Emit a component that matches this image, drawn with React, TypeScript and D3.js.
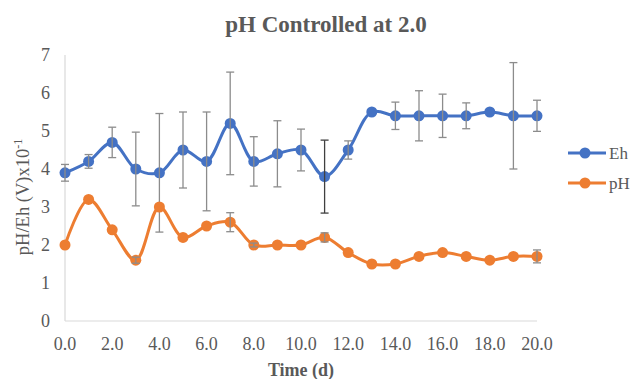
import React, { useEffect, useRef } from 'react';
import * as d3 from 'd3';

// days 0..20
const days = d3.range(0, 21);
const ehValues = [3.9, 4.2, 4.7, 4.0, 3.9, 4.5, 4.2, 5.2, 4.2, 4.4, 4.5, 3.8, 4.5, 5.5, 5.4, 5.4, 5.4, 5.4, 5.5, 5.4, 5.4];
const ehErrors = [0.22, 0.18, 0.4, 0.97, 1.56, 1.0, 1.3, 1.35, 0.65, 0.87, 0.55, 0.96, 0.24, 0, 0.36, 0.66, 0.57, 0.34, 0, 1.4, 0.41];
const phValues = [2.0, 3.2, 2.4, 1.6, 3.0, 2.2, 2.5, 2.6, 2.0, 2.0, 2.0, 2.2, 1.8, 1.5, 1.5, 1.7, 1.8, 1.7, 1.6, 1.7, 1.7];
const phErrors = [0, 0, 0, 0.08, 0, 0, 0, 0.25, 0.05, 0, 0, 0.12, 0, 0, 0, 0, 0, 0, 0, 0, 0.17];
const xTicks = [0, 2, 4, 6, 8, 10, 12, 14, 16, 18, 20];
const yTicks = [0, 1, 2, 3, 4, 5, 6, 7];

const seriesList = [
  { name: 'Eh', values: ehValues, errors: ehErrors, color: '#4472C4' },
  { name: 'pH', values: phValues, errors: phErrors, color: '#ED7D31' },
];

export default function App() {
  const ref = useRef<SVGSVGElement>(null);

  useEffect(() => {
    const svg = d3.select(ref.current);
    svg.selectAll('*').remove();

    const font = '"Liberation Serif", "Times New Roman", serif';
    const xScale = d3.scaleLinear().domain([0, 20]).range([65, 537]);
    const yScale = d3.scaleLinear().domain([0, 7]).range([321, 55]);

    // axes lines
    svg.append('line')
      .attr('x1', xScale(0)).attr('x2', xScale(0))
      .attr('y1', yScale(7)).attr('y2', yScale(0))
      .attr('stroke', '#d9d9d9').attr('stroke-width', 1.2);
    svg.append('line')
      .attr('x1', xScale(0)).attr('x2', xScale(20))
      .attr('y1', yScale(0)).attr('y2', yScale(0))
      .attr('stroke', '#d9d9d9').attr('stroke-width', 1.2);

    // tick labels
    svg.selectAll('.ytick')
      .data(yTicks)
      .join('text')
      .attr('class', 'ytick')
      .attr('x', 50)
      .attr('y', d => yScale(d))
      .attr('dy', '0.35em')
      .attr('text-anchor', 'end')
      .attr('font-family', font)
      .attr('font-size', 18)
      .attr('fill', '#595959')
      .text(d => d);

    svg.selectAll('.xtick')
      .data(xTicks)
      .join('text')
      .attr('class', 'xtick')
      .attr('x', d => xScale(d))
      .attr('y', 344)
      .attr('dy', '0.35em')
      .attr('text-anchor', 'middle')
      .attr('font-family', font)
      .attr('font-size', 18)
      .attr('fill', '#595959')
      .text(d => d.toFixed(1));

    // titles
    svg.append('text')
      .attr('x', 326).attr('y', 32)
      .attr('text-anchor', 'middle')
      .attr('font-family', font)
      .attr('font-size', 23)
      .attr('font-weight', 'bold')
      .attr('fill', '#595959')
      .text('pH Controlled at 2.0');

    svg.append('text')
      .attr('x', 301).attr('y', 376)
      .attr('text-anchor', 'middle')
      .attr('font-family', font)
      .attr('font-size', 18)
      .attr('font-weight', 'bold')
      .attr('fill', '#595959')
      .text('Time (d)');

    const yLabel = svg.append('text')
      .attr('transform', 'translate(29, 197) rotate(-90)')
      .attr('text-anchor', 'middle')
      .attr('font-family', font)
      .attr('font-size', 18.5)
      .attr('fill', '#595959');
    yLabel.append('tspan').text('pH/Eh (V)x10');
    yLabel.append('tspan').attr('font-size', 12).attr('dy', -7).text('-1');

    const line = d3.line<number>()
      .x((_, i) => xScale(days[i]))
      .y(d => yScale(d))
      .curve(d3.curveCatmullRom.alpha(0.5));

    seriesList.forEach(s => {
      const g = svg.append('g');
      g.append('path')
        .attr('d', line(s.values))
        .attr('fill', 'none')
        .attr('stroke', s.color)
        .attr('stroke-width', 3);

      g.selectAll('.dot')
        .data(s.values)
        .join('circle')
        .attr('class', 'dot')
        .attr('cx', (_, i) => xScale(days[i]))
        .attr('cy', d => yScale(d))
        .attr('r', 5.5)
        .attr('fill', s.color);

      // error bars
      const eb = g.selectAll('.err')
        .data(s.values.map((v, i) => ({ v, e: s.errors[i], day: days[i] })).filter(d => d.e > 0))
        .join('g')
        .attr('class', 'err')
        .attr('stroke', d => (d.day === 11 && s.name === 'Eh' ? '#404040' : '#8c8c8c'))
        .attr('stroke-width', 1.3);
      eb.append('line')
        .attr('x1', d => xScale(d.day)).attr('x2', d => xScale(d.day))
        .attr('y1', d => yScale(d.v + d.e)).attr('y2', d => yScale(d.v - d.e));
      eb.append('line')
        .attr('x1', d => xScale(d.day) - 4).attr('x2', d => xScale(d.day) + 4)
        .attr('y1', d => yScale(d.v + d.e)).attr('y2', d => yScale(d.v + d.e));
      eb.append('line')
        .attr('x1', d => xScale(d.day) - 4).attr('x2', d => xScale(d.day) + 4)
        .attr('y1', d => yScale(d.v - d.e)).attr('y2', d => yScale(d.v - d.e));
    });

    // legend
    const legend = svg.selectAll('.legend')
      .data(seriesList)
      .join('g')
      .attr('class', 'legend')
      .attr('transform', (_, i) => `translate(0, ${153 + i * 30})`);
    legend.append('line')
      .attr('x1', 568).attr('x2', 606)
      .attr('stroke', d => d.color).attr('stroke-width', 3);
    legend.append('circle')
      .attr('cx', 585).attr('r', 5.5)
      .attr('fill', d => d.color);
    legend.append('text')
      .attr('x', 609)
      .attr('dy', '0.35em')
      .attr('font-family', font)
      .attr('font-size', 17)
      .attr('fill', '#595959')
      .text(d => d.name);
  }, []);

  return (
    <svg ref={ref} width={630} height={379} style={{ position: 'absolute', left: 0, top: 0, background: '#fff' }} />
  );
}
